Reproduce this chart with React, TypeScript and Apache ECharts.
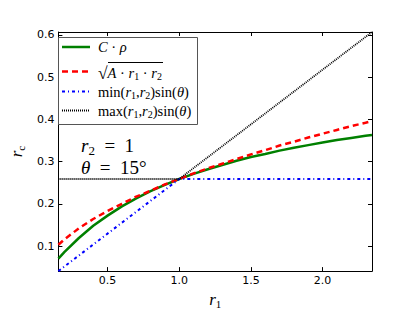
import React, { useEffect, useRef } from 'react';
import * as echarts from 'echarts';

// ---- data ----
const r1Values = [0.157, 0.2, 0.3, 0.4, 0.5, 0.6, 0.7, 0.8, 0.9, 1.0, 1.1, 1.2, 1.3, 1.4, 1.5, 1.6, 1.7, 1.8, 1.9, 2.0, 2.1, 2.2, 2.3, 2.345];
const cRhoValues = [0.070, 0.086, 0.119, 0.148, 0.172, 0.194, 0.213, 0.230, 0.245, 0.2588, 0.271, 0.282, 0.292, 0.302, 0.311, 0.318, 0.326, 0.333, 0.339, 0.345, 0.351, 0.356, 0.361, 0.363];
const sqrtValues = [0.103, 0.116, 0.142, 0.164, 0.183, 0.200, 0.217, 0.231, 0.246, 0.2588, 0.272, 0.284, 0.295, 0.306, 0.317, 0.327, 0.338, 0.347, 0.357, 0.366, 0.375, 0.384, 0.392, 0.396];
const bendX = [0.157, 1.0, 2.345];
const minValues = [0.0406, 0.2588, 0.2588];
const maxValues = [0.2588, 0.2588, 0.6069];
const xTicks = [0.5, 1.0, 1.5, 2.0];
const yTicks = [0.1, 0.2, 0.3, 0.4, 0.5, 0.6];
const xRange = [0.157, 2.345];
const yRange = [0.0406, 0.607];
const seriesNames = ['C·ρ', '√(A·r₁·r₂)', 'min(r₁,r₂)sin(θ)', 'max(r₁,r₂)sin(θ)'];
const seriesColors = ['#008000', '#ff0000', '#0000ff', '#000000'];

const SERIF = '"Liberation Serif", "DejaVu Serif", serif';
const SANS = '"DejaVu Sans", sans-serif';

const pairs = (xs: number[], ys: number[]) => xs.map((x, i) => [x, ys[i]]);
const tickFmt = (ticks: number[]) => (v: number) =>
  ticks.some((t) => Math.abs(t - v) < 1e-6) ? v.toFixed(1) : '';

const mathRich = (size: number, subSize: number, subPad: number) => ({
  i: { fontFamily: SERIF, fontStyle: 'italic', fontSize: size, fill: '#000', color: '#000' },
  n: { fontFamily: SERIF, fontSize: size, fill: '#000', color: '#000' },
  q: { fontFamily: SERIF, fontSize: size + 3, fill: '#000', color: '#000' },
  s: { fontFamily: SERIF, fontSize: subSize, fill: '#000', color: '#000', padding: [subPad, 0, 0, 0] },
});

export default function App() {
  const ref = useRef<HTMLDivElement>(null);

  useEffect(() => {
    document.body.style.margin = '0';
    if (!ref.current) return;
    const chart = echarts.init(ref.current, undefined, { renderer: 'svg' });

    const lineStyles = [
      { width: 2.5, type: 'solid' as any },
      { width: 2.5, type: [6, 4] as any },
      { width: 2, type: [3, 3, 1, 3] as any },
      { width: 1.8, type: [1, 1] as any },
    ];
    const seriesData = [
      pairs(r1Values, cRhoValues),
      pairs(r1Values, sqrtValues),
      pairs(bendX, minValues),
      pairs(bendX, maxValues),
    ];

    const legendRich = mathRich(14.5, 10, 7);
    const legendRows = [
      '{i|C}{n| · }{i|ρ}',
      '{q|√}{i|A}{n| · }{i|r}{s|1}{n| · }{i|r}{s|2}',
      '{n|min(}{i|r}{s|1}{n|,}{i|r}{s|2}{n|)sin(}{i|θ}{n|)}',
      '{n|max(}{i|r}{s|1}{n|,}{i|r}{s|2}{n|)sin(}{i|θ}{n|)}',
    ];
    const rowY = [47, 71.5, 91.5, 110.5];

    const axisCommon = {
      type: 'value' as const,
      axisLine: { show: true, onZero: false, lineStyle: { color: '#000', width: 1 } },
      axisTick: { show: true, inside: true, length: 4, lineStyle: { color: '#000', width: 1 } },
      splitLine: { show: false },
    };

    chart.setOption({
      animation: false,
      backgroundColor: '#fff',
      grid: { left: 52, right: 43, top: 32, bottom: 32 },
      xAxis: [
        {
          ...axisCommon,
          position: 'bottom',
          min: xRange[0],
          max: xRange[1],
          axisLabel: { fontFamily: SANS, fontSize: 11, color: '#000', margin: 4, formatter: tickFmt(xTicks) },
          name: '{i|r}{s|1}',
          nameLocation: 'middle',
          nameGap: 15,
          nameTextStyle: { rich: mathRich(17, 11, 8) },
        },
        {
          ...axisCommon,
          position: 'top',
          min: xRange[0],
          max: xRange[1],
          axisLabel: { show: false },
        },
      ],
      yAxis: [
        {
          ...axisCommon,
          position: 'left',
          min: yRange[0],
          max: yRange[1],
          axisLabel: { fontFamily: SANS, fontSize: 11, color: '#000', margin: 4, formatter: tickFmt(yTicks) },
          name: '{i|r}{s|c}',
          nameLocation: 'middle',
          nameGap: 30,
          nameTextStyle: { rich: mathRich(17, 11, 8) },
        },
        {
          ...axisCommon,
          position: 'right',
          min: yRange[0],
          max: yRange[1],
          axisLabel: { show: false },
        },
      ],
      series: seriesNames.map((name, k) => ({
        name,
        type: 'line',
        data: seriesData[k],
        showSymbol: false,
        symbol: 'none',
        smooth: false,
        lineStyle: { color: seriesColors[k], ...lineStyles[k] },
        itemStyle: { color: seriesColors[k] },
        z: 2 + k,
      })),
      graphic: [
        {
          type: 'rect',
          shape: { x: 58.5, y: 37.5, width: 139, height: 87 },
          style: { fill: '#fff', stroke: '#555', lineWidth: 1 },
          z: 10,
        },
        ...seriesNames.map((_, k) => ({
          type: 'line',
          shape: { x1: 62, y1: rowY[k], x2: 90, y2: rowY[k] },
          style: { stroke: seriesColors[k], lineWidth: lineStyles[k].width, lineDash: k === 0 ? null : lineStyles[k].type },
          z: 11,
        })),
        ...legendRows.map((t, k) => ({
          type: 'text',
          x: 98,
          y: rowY[k] + (k === 1 ? 1 : 0),
          style: { text: t, rich: legendRich, verticalAlign: 'middle', align: 'left', fill: '#000' },
          z: 11,
        })),
        {
          type: 'line',
          shape: { x1: 108, y1: 62.5, x2: 163, y2: 62.5 },
          style: { stroke: '#000', lineWidth: 1 },
          z: 11,
        },
        {
          type: 'text',
          x: 81,
          y: 145,
          style: { text: '{i|r}{s|2}{n|  =  1}', rich: mathRich(19, 13, 10), verticalAlign: 'middle', align: 'left', fill: '#000' },
          z: 11,
        },
        {
          type: 'text',
          x: 81,
          y: 167,
          style: { text: '{i|θ}{n|  =  15°}', rich: mathRich(19, 13, 10), verticalAlign: 'middle', align: 'left', fill: '#000' },
          z: 11,
        },
      ],
    });

    return () => chart.dispose();
  }, []);

  return <div ref={ref} style={{ width: 415, height: 314 }} />;
}
